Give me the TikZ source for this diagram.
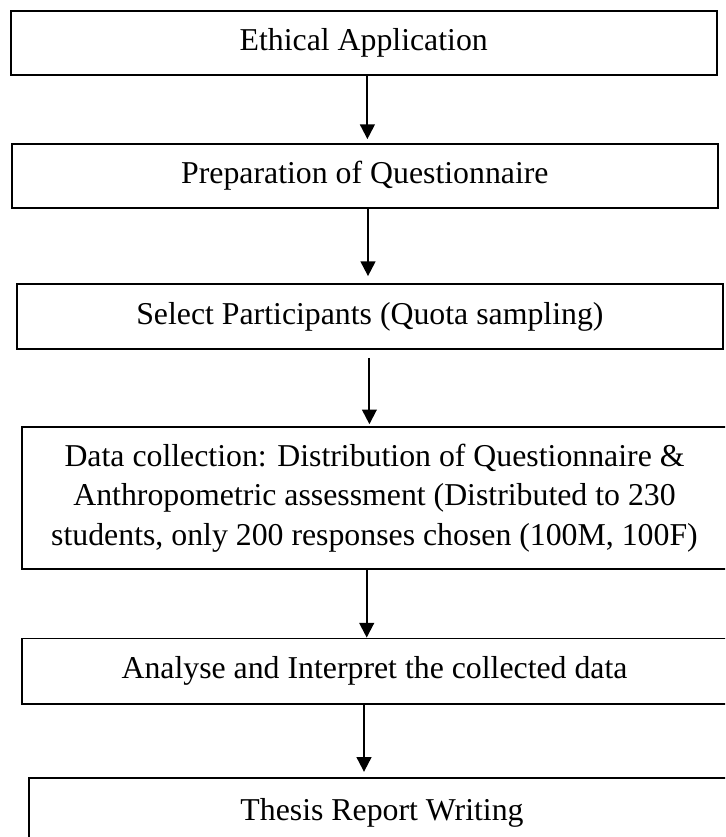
\documentclass[tikz,border=0pt]{standalone}
\usepackage{fontspec}
\setmainfont{Liberation Serif}
\usetikzlibrary{arrows.meta}
\begin{document}
\begin{tikzpicture}[x=0.75pt,y=-0.75pt,
  box/.style={draw, line width=1.3pt, inner sep=0pt, align=center,
    font=\fontsize{23.85}{29.5}\selectfont},
  arr/.style={line width=1.5pt, -{Triangle[length=11pt,width=11pt]}}]
\clip (0,0) rectangle (725,837);
\node[box, minimum width=529.5pt, minimum height=48pt] (b1) at (363.7,43) {Ethical Application};
\node[box, minimum width=529.3pt, minimum height=48pt] (b2) at (364.85,176) {Preparation of Questionnaire};
\node[box, minimum width=529.7pt, minimum height=48.75pt] (b3) at (369.85,316.5) {Select Participants (Quota sampling)};
\node[box, minimum width=528.75pt, minimum height=106.7pt] (b4) at (374.5,498.2) {Data collection: Distribution of Questionnaire \&\\Anthropometric assessment (Distributed to 230\\students, only 200 responses chosen (100M, 100F)};
\node[box, minimum width=528.75pt, minimum height=49.1pt] (b5) at (374.5,671.2) {Analyse and Interpret the collected data};
\node[box, minimum width=530pt, minimum height=52.5pt] (b6) at (382,812.7) {Thesis Report Writing};
\coordinate (c1) at (367.4,0);
\coordinate (c2) at (368,0);
\coordinate (c3) at (369.4,0);
\coordinate (c4) at (366.7,0);
\coordinate (c5) at (364,0);
\draw[arr, shorten >=3pt] (b1.south -| c1) -- (b2.north -| c1);
\draw[arr, shorten >=5.25pt] (b2.south -| c2) -- (b3.north -| c2);
\draw[arr, shorten <=6pt, shorten >=1.5pt] (b3.south -| c3) -- (b4.north -| c3);
\draw[arr] (b4.south -| c4) -- (b5.north -| c4);
\draw[arr, shorten >=3.75pt] (b5.south -| c5) -- (b6.north -| c5);
\end{tikzpicture}
\end{document}
